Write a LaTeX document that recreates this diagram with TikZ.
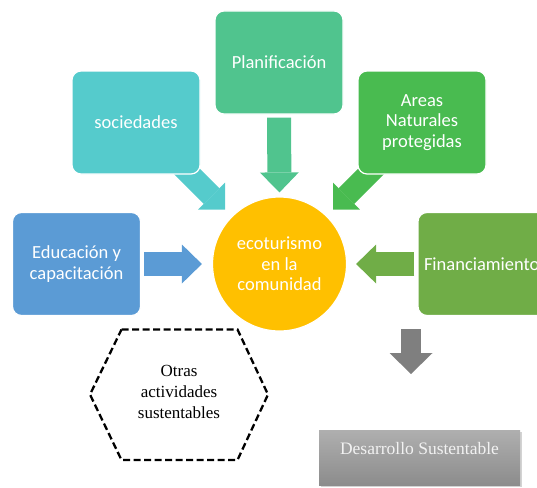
\documentclass[tikz,border=0pt]{standalone}
\usepackage{fontspec}
\setmainfont{Liberation Serif}
\newfontfamily\boxfont{Carlito}
\usetikzlibrary{arrows.meta,calc,shadows,backgrounds}
\definecolor{planc}{RGB}{80,196,142}
\definecolor{socc}{RGB}{85,203,204}
\definecolor{areac}{RGB}{73,187,80}
\definecolor{educ}{RGB}{91,155,213}
\definecolor{finc}{RGB}{112,173,71}
\definecolor{ecoc}{RGB}{255,192,0}
\definecolor{downc}{RGB}{127,127,127}
\definecolor{destop}{RGB}{175,175,175}
\definecolor{desbot}{RGB}{140,140,140}
\definecolor{destext}{RGB}{242,242,242}
\tikzset{
	smartbox/.style={rectangle, rounded corners=9pt, draw=white, line width=1.2pt, text=white, minimum width=128pt, minimum height=103pt, align=center, font=\boxfont\fontsize{18.5}{20.5}\selectfont},
	blockarrow/.style={line width=24pt, -{Triangle[length=20pt,width=39pt,line width=0pt]}},
}

\begin{document}
\begin{tikzpicture}[x=1pt, y=-1pt]
		%%%%% START %%%%%
		\useasboundingbox (0, 0) rectangle (537, 487);
		\clip (0, 0) rectangle (537, 487);
		
		\node[smartbox, fill=planc] (plan) at (279, 62.5) {Planificaci\'on};
		\node[smartbox, fill=socc] (soc) at (136, 122.5) {sociedades};
		\node[smartbox, fill=areac] (areas) at (422, 122.5) {Areas\\Naturales\\protegidas};
		\node[smartbox, fill=educ] (edu) at (76.5, 264) {Educaci\'on y\\capacitaci\'on};
		\node[smartbox, fill=finc, minimum width=138pt, text width=126pt, inner xsep=6pt, align=left] (fin) at (487, 264) {Financiamiento};
		
		\node[circle, fill=ecoc, draw=white, line width=1.2pt, minimum size=134pt, text=white, align=center, font=\boxfont\fontsize{18.5}{20.5}\selectfont] (eco) at (279.5, 264) {ecoturismo\\en la\\comunidad};
		
		% arrows into the circle
		\begin{scope}[on background layer]
		\draw[blockarrow, color=planc] ($(plan.south)+(0, 3)$) -- ($(eco.north)+(0, -4)$);
		\draw[blockarrow, line width=22pt, color=socc, -{Triangle[length=19pt,width=38pt,line width=0pt]}] ($(soc.south east)+(-20, -9.5)$) -- ($(eco.center)+(-54.5, -54.5)$);
		\draw[blockarrow, line width=22pt, color=areac, -{Triangle[length=19pt,width=38pt,line width=0pt]}] ($(areas.south west)+(20, -9.5)$) -- ($(eco.center)+(53.5, -54.5)$);
		\draw[blockarrow, color=educ] ($(edu.east)+(3, 0)$) -- ($(eco.west)+(-10, 0)$);
		\draw[blockarrow, color=finc] ($(fin.west)+(-3, 0)$) -- ($(eco.east)+(9, 0)$);
		\end{scope}
		
		% down arrow and result
		\node[rectangle, minimum width=201pt, minimum height=55pt, top color=destop, bottom color=desbot, drop shadow={shadow xshift=1.5pt, shadow yshift=-2pt, opacity=0.35}, text=destext, text depth=19pt, font=\fontsize{17.5}{20}\selectfont] (des) at (419.5, 457.5) {Desarrollo Sustentable};
		\coordinate (down1) at (411, 329);
		\coordinate (down2) at (411, 374);
		\draw[line width=20.5pt, color=downc, -{Triangle[length=21pt,width=43pt,line width=0pt]}] (down1) -- (down2);
		
		% dashed hexagon
		\draw[black, line width=2.3pt, dash pattern=on 7pt off 3.5pt] (121.5, 329.5) -- (237.5, 329.5) -- (268, 394.5) -- (237.5, 460) -- (121.5, 460) -- (90, 394.5) -- cycle;
		\node[align=center, font=\fontsize{17}{21}\selectfont] (otras) at (179, 392) {Otras\\actividades\\sustentables};
		
		%%%%% END %%%%%
	\end{tikzpicture}
\end{document}
